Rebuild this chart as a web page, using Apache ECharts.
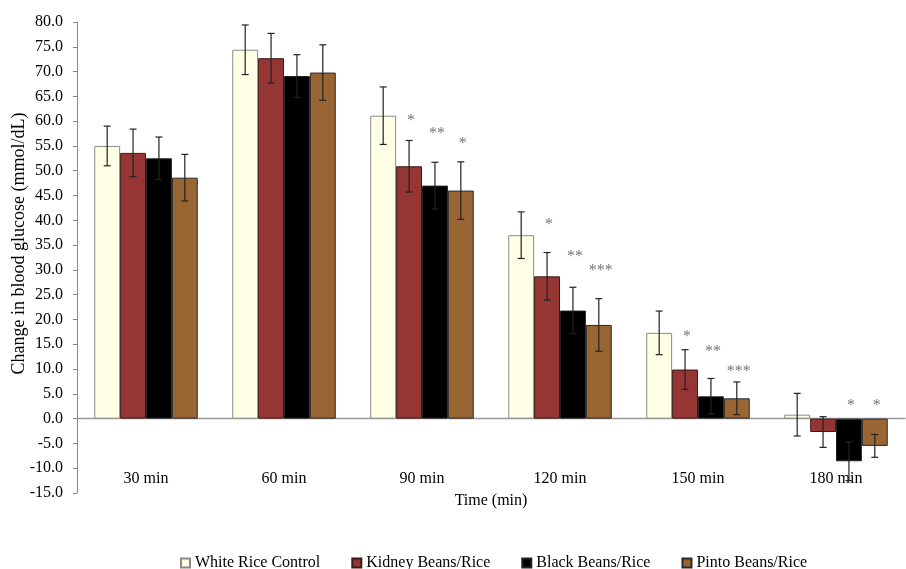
<!DOCTYPE html>
<html>
<head>
<meta charset="utf-8">
<script src="https://cdn.jsdelivr.net/npm/echarts@6/dist/echarts.min.js"></script>
<style>
  html, body { margin: 0; padding: 0; background: #fff; }
  #main { width: 906px; height: 569px; }
</style>
</head>
<body>
<div id="main"></div>
<script>
// 时间点
var categories = ['30 min', '60 min', '90 min', '120 min', '150 min', '180 min'];
// 各组均值
var whiteRice = [55.0, 74.4, 61.1, 37.0, 17.3, 0.8];
var kidneyBeans = [53.6, 72.7, 50.9, 28.7, 9.9, -2.7];
var blackBeans = [52.5, 69.1, 47.0, 21.8, 4.5, -8.6];
var pintoBeans = [48.6, 69.8, 46.0, 18.9, 4.1, -5.5];
// 误差
var whiteErr = [4.0, 5.0, 5.8, 4.7, 4.4, 4.3];
var kidneyErr = [4.8, 5.0, 5.2, 4.8, 4.0, 3.1];
var blackErr = [4.3, 4.3, 4.7, 4.7, 3.6, 3.9];
var pintoErr = [4.7, 5.6, 5.8, 5.3, 3.3, 2.3];
// 显著性星号 及其高度
var kidneyStars = ['', '', '*', '*', '*', ''];
var blackStars = ['', '', '**', '**', '**', '*'];
var pintoStars = ['', '', '*', '***', '***', '*'];
var kidneyStarY = [0, 0, 60.9, 39.9, 17.4, 0];
var blackStarY = [0, 0, 58.3, 33.4, 14.2, 3.4];
var pintoStarY = [0, 0, 56.3, 30.6, 10.3, 3.4];

var names = ['White Rice Control', 'Kidney Beans/Rice', 'Black Beans/Rice', 'Pinto Beans/Rice'];
var means = [whiteRice, kidneyBeans, blackBeans, pintoBeans];
var errs = [whiteErr, kidneyErr, blackErr, pintoErr];
var stars = [null, kidneyStars, blackStars, pintoStars];
var starY = [null, kidneyStarY, blackStarY, pintoStarY];
var fills = ['#FFFFE6', '#963634', '#000000', '#996633'];
var borders = ['#8a8a8a', '#3a1c1c', '#222222', '#2a2a2a'];

var font = 'Liberation Serif';
var myChart = echarts.init(document.getElementById('main'));

var errData = [];
var starData = [];
for (var s = 0; s < 4; s++) {
    for (var i = 0; i < categories.length; i++) {
        errData.push([i, means[s][i], errs[s][i], s]);
        if (stars[s] && stars[s][i]) {
            starData.push([i, starY[s][i], s, stars[s][i]]);
        }
    }
}

// 柱子中心x
function barX(api, cat, val, s) {
    var band = api.size([1, 0])[0];
    var bw = band * 0.75 / 4;
    var c = api.coord([cat, val]);
    return c[0] + (s - 1.5) * bw;
}

var series = [];
for (var k = 0; k < 4; k++) {
    series.push({
        name: names[k],
        type: 'bar',
        data: means[k],
        barGap: '0%',
        barCategoryGap: '25%',
        itemStyle: { color: fills[k], borderColor: borders[k], borderWidth: 1 }
    });
}
series.push({
    type: 'custom',
    data: errData,
    z: 5,
    renderItem: function (params, api) {
        var cat = api.value(0), val = api.value(1), err = api.value(2), s = api.value(3);
        var x = barX(api, cat, val, s);
        var top = api.coord([cat, val + err])[1];
        var bot = api.coord([cat, val - err])[1];
        var st = { stroke: '#222', lineWidth: 1.2 };
        return {
            type: 'group',
            children: [
                { type: 'line', shape: { x1: x, y1: top, x2: x, y2: bot }, style: st },
                { type: 'line', shape: { x1: x - 3.5, y1: top, x2: x + 3.5, y2: top }, style: st },
                { type: 'line', shape: { x1: x - 3.5, y1: bot, x2: x + 3.5, y2: bot }, style: st }
            ]
        };
    }
});
series.push({
    type: 'custom',
    data: starData,
    z: 6,
    renderItem: function (params, api) {
        var cat = api.value(0), val = api.value(1), s = api.value(2);
        var txt = starData[params.dataIndex][3];
        var x = barX(api, cat, val, s) + 2;
        var y = api.coord([cat, val])[1];
        return {
            type: 'text',
            style: {
                x: x, y: y + 4, text: txt, fill: '#777',
                font: '16px "Liberation Serif"', align: 'center', verticalAlign: 'middle'
            }
        };
    }
});

myChart.setOption({
    animation: false,
    grid: { left: 77, right: 1, top: 22, bottom: 76, outerBoundsMode: 'none' },
    legend: {
        data: names,
        left: 175,
        top: 550,
        icon: 'rect',
        itemWidth: 9,
        itemHeight: 9,
        itemGap: 31,
        textStyle: { fontFamily: font, fontSize: 16, color: '#000' }
    },
    xAxis: {
        type: 'category',
        data: categories,
        name: 'Time (min)',
        nameLocation: 'middle',
        nameGap: 0,
        nameMoveOverlap: false,
        nameTextStyle: { fontFamily: font, fontSize: 16, color: '#000' },
        axisLine: { onZero: true, lineStyle: { color: '#999', width: 1.3 } },
        axisTick: { show: false },
        axisLabel: { margin: -22, fontFamily: font, fontSize: 16, color: '#000' }
    },
    yAxis: {
        type: 'value',
        min: -15,
        max: 80,
        interval: 5,
        name: 'Change in blood glucose (mmol/dL)',
        nameLocation: 'middle',
        nameGap: 49,
        nameMoveOverlap: false,
        nameTextStyle: { fontFamily: font, fontSize: 18, color: '#000', padding: [0, 0, 0, 28] },
        axisLine: { show: true, lineStyle: { color: '#888' } },
        axisTick: { show: true, length: 4, lineStyle: { color: '#888' } },
        splitLine: { show: false },
        axisLabel: {
            margin: 14, fontFamily: font, fontSize: 16, color: '#000',
            formatter: function (v) { return v.toFixed(1); }
        }
    },
    series: series
});
</script>
</body>
</html>
